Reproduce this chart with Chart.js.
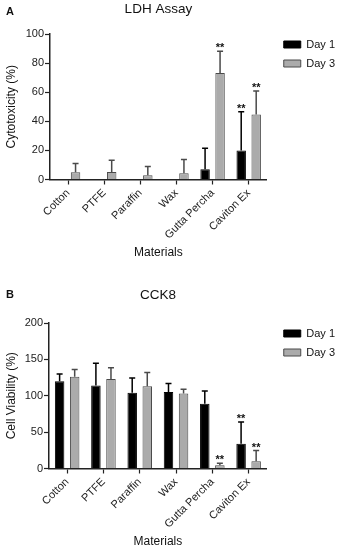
<!DOCTYPE html>
<html>
<head>
<meta charset="utf-8">
<script src="https://cdn.jsdelivr.net/npm/chart.js@4/dist/chart.umd.min.js"></script>
<style>
  html, body { margin: 0; padding: 0; background: #fff; }
  #wrap { position: relative; width: 349px; height: 550px; }
  canvas { position: absolute; left: 0; }
</style>
</head>
<body>
<div id="wrap">
  <canvas id="ldh" width="349" height="261" style="top:0"></canvas>
  <canvas id="cck" width="349" height="261" style="top:289px"></canvas>
</div>
<script>
var materials = ['Cotton', 'PTFE', 'Paraffin', 'Wax', 'Gutta Percha', 'Caviton Ex'];
var seriesNames = ['Day 1', 'Day 3'];

// LDH assay - cytotoxicity (%), mean and SD
var ldhDay1 = [0.3, 0, 0, 0, 7, 20];
var ldhDay1Sd = [0, 0, 0, 0, 14.4, 26.6];
var ldhDay3 = [5, 5.2, 3, 4.3, 73.2, 44.6];
var ldhDay3Sd = [6, 8, 6, 9.5, 15, 16.3];
var ldhSig1 = [false, false, false, false, false, true];
var ldhSig3 = [false, false, false, false, true, true];

// CCK8 - cell viability (%), mean and SD
var cckDay1 = [120, 114, 104, 105, 89, 34];
var cckDay1Sd = [10, 30.7, 20.5, 12, 17.4, 30];
var cckDay3 = [126, 123, 113, 103, 4.6, 10];
var cckDay3Sd = [10, 15.5, 19, 6, 2.5, 14.7];
var cckSig1 = [false, false, false, false, false, true];
var cckSig3 = [false, false, false, false, true, true];

Chart.defaults.font.family = '"Liberation Sans", Arial, Helvetica, sans-serif';
Chart.defaults.color = '#1a1a1a';

// error bars, ** marks and panel letter
var extras = {
  id: 'extras',
  afterDatasetsDraw: function (chart, args, opts) {
    var ctx = chart.ctx;
    var y = chart.scales.y;
    ctx.save();
    chart.data.datasets.forEach(function (ds, i) {
      var meta = chart.getDatasetMeta(i);
      meta.data.forEach(function (bar, j) {
        var sd = ds.sd[j];
        var top = y.getPixelForValue(ds.data[j] + sd);
        if (sd > 0) {
          ctx.strokeStyle = ds.borderColor;
          ctx.lineWidth = 1.5;
          ctx.beginPath();
          ctx.moveTo(bar.x, bar.y);
          ctx.lineTo(bar.x, top);
          ctx.moveTo(bar.x - 3, top);
          ctx.lineTo(bar.x + 3, top);
          ctx.stroke();
        }
        if (ds.sig[j]) {
          ctx.fillStyle = '#111';
          ctx.font = 'bold 11px "Liberation Sans", Arial, sans-serif';
          ctx.textAlign = 'center';
          ctx.textBaseline = 'alphabetic';
          ctx.fillText('**', bar.x, top);
        }
      });
    });
    ctx.fillStyle = '#111';
    ctx.font = 'bold 11px "Liberation Sans", Arial, sans-serif';
    ctx.textAlign = 'center';
    ctx.textBaseline = 'middle';
    ctx.fillText(opts.letter, 10, opts.letterY);
    ctx.restore();
  }
};

function buildChart(id, cfg) {
  return new Chart(document.getElementById(id), {
    type: 'bar',
    data: {
      labels: materials,
      datasets: [
        {
          label: seriesNames[0], data: cfg.day1, sd: cfg.sd1, sig: cfg.sig1, yAxisID: 'y',
          backgroundColor: '#000', borderColor: '#000', borderWidth: 1,
          categoryPercentage: 0.83, barPercentage: 0.63
        },
        {
          label: seriesNames[1], data: cfg.day3, sd: cfg.sd3, sig: cfg.sig3, yAxisID: 'y',
          backgroundColor: '#ababab', borderColor: '#4a4a4a', borderWidth: 1,
          categoryPercentage: 0.83, barPercentage: 0.63
        }
      ]
    },
    options: {
      responsive: false,
      animation: false,
      layout: { padding: { left: 0, right: 4, top: 0, bottom: 0 } },
      plugins: {
        title: {
          display: true, text: cfg.title, fullSize: false, color: '#111',
          font: { size: 13.5, weight: 'normal', lineHeight: 1 },
          padding: cfg.titlePad
        },
        legend: {
          position: 'right', align: 'start', maxWidth: 100,
          labels: { boxWidth: 17, boxHeight: 7, padding: 8, color: '#111', font: { size: 11 } },
          title: { display: true, text: ' ', padding: { top: 20, bottom: 0 }, font: { size: 11, lineHeight: 1 } }
        },
        tooltip: { enabled: false },
        extras: { letter: cfg.letter, letterY: cfg.letterY }
      },
      scales: {
        x: {
          grid: { display: true, drawOnChartArea: false, offset: false, tickLength: 5, tickColor: '#222', tickWidth: 1.2 },
          border: { color: '#222', width: 1.5 },
          ticks: { autoSkip: false, minRotation: 45, maxRotation: 45, padding: 2, color: '#222', font: { size: 11 } },
          title: { display: true, text: 'Materials', color: '#111', font: { size: 12 }, padding: { top: 4, bottom: 1 } },
          afterFit: function (s) { s.height = 81.5; }
        },
        y: {
          min: 0, max: cfg.yMax,
          ticks: { stepSize: cfg.yStep, padding: 1, color: '#222', font: { size: 11 } },
          grid: { display: true, drawOnChartArea: false, tickLength: 5, tickColor: '#222', tickWidth: 1.2 },
          border: { color: '#222', width: 1.5 },
          title: { display: true, text: cfg.yTitle, color: '#111', font: { size: 12 }, padding: { top: 4, bottom: 0 } },
          afterFit: function (s) { s.width = cfg.yWidth; }
        },
        gap: {
          type: 'linear', position: 'right',
          grid: { display: false }, border: { display: false }, ticks: { display: false },
          afterFit: function (s) { s.width = 9; }
        }
      }
    },
    plugins: [extras]
  });
}

buildChart('ldh', {
  title: 'LDH Assay', yTitle: 'Cytotoxicity (%)', yMax: 100, yStep: 20, yWidth: 50,
  day1: ldhDay1, sd1: ldhDay1Sd, sig1: ldhSig1,
  day3: ldhDay3, sd3: ldhDay3Sd, sig3: ldhSig3,
  titlePad: { top: 2.75, bottom: 17.75 }, letter: 'A', letterY: 11.7
});

buildChart('cck', {
  title: 'CCK8', yTitle: 'Cell Viability (%)', yMax: 200, yStep: 50, yWidth: 49,
  day1: cckDay1, sd1: cckDay1Sd, sig1: cckSig1,
  day3: cckDay3, sd3: cckDay3Sd, sig3: cckSig3,
  titlePad: { top: 0, bottom: 20.5 }, letter: 'B', letterY: 5.5
});
</script>
</body>
</html>
